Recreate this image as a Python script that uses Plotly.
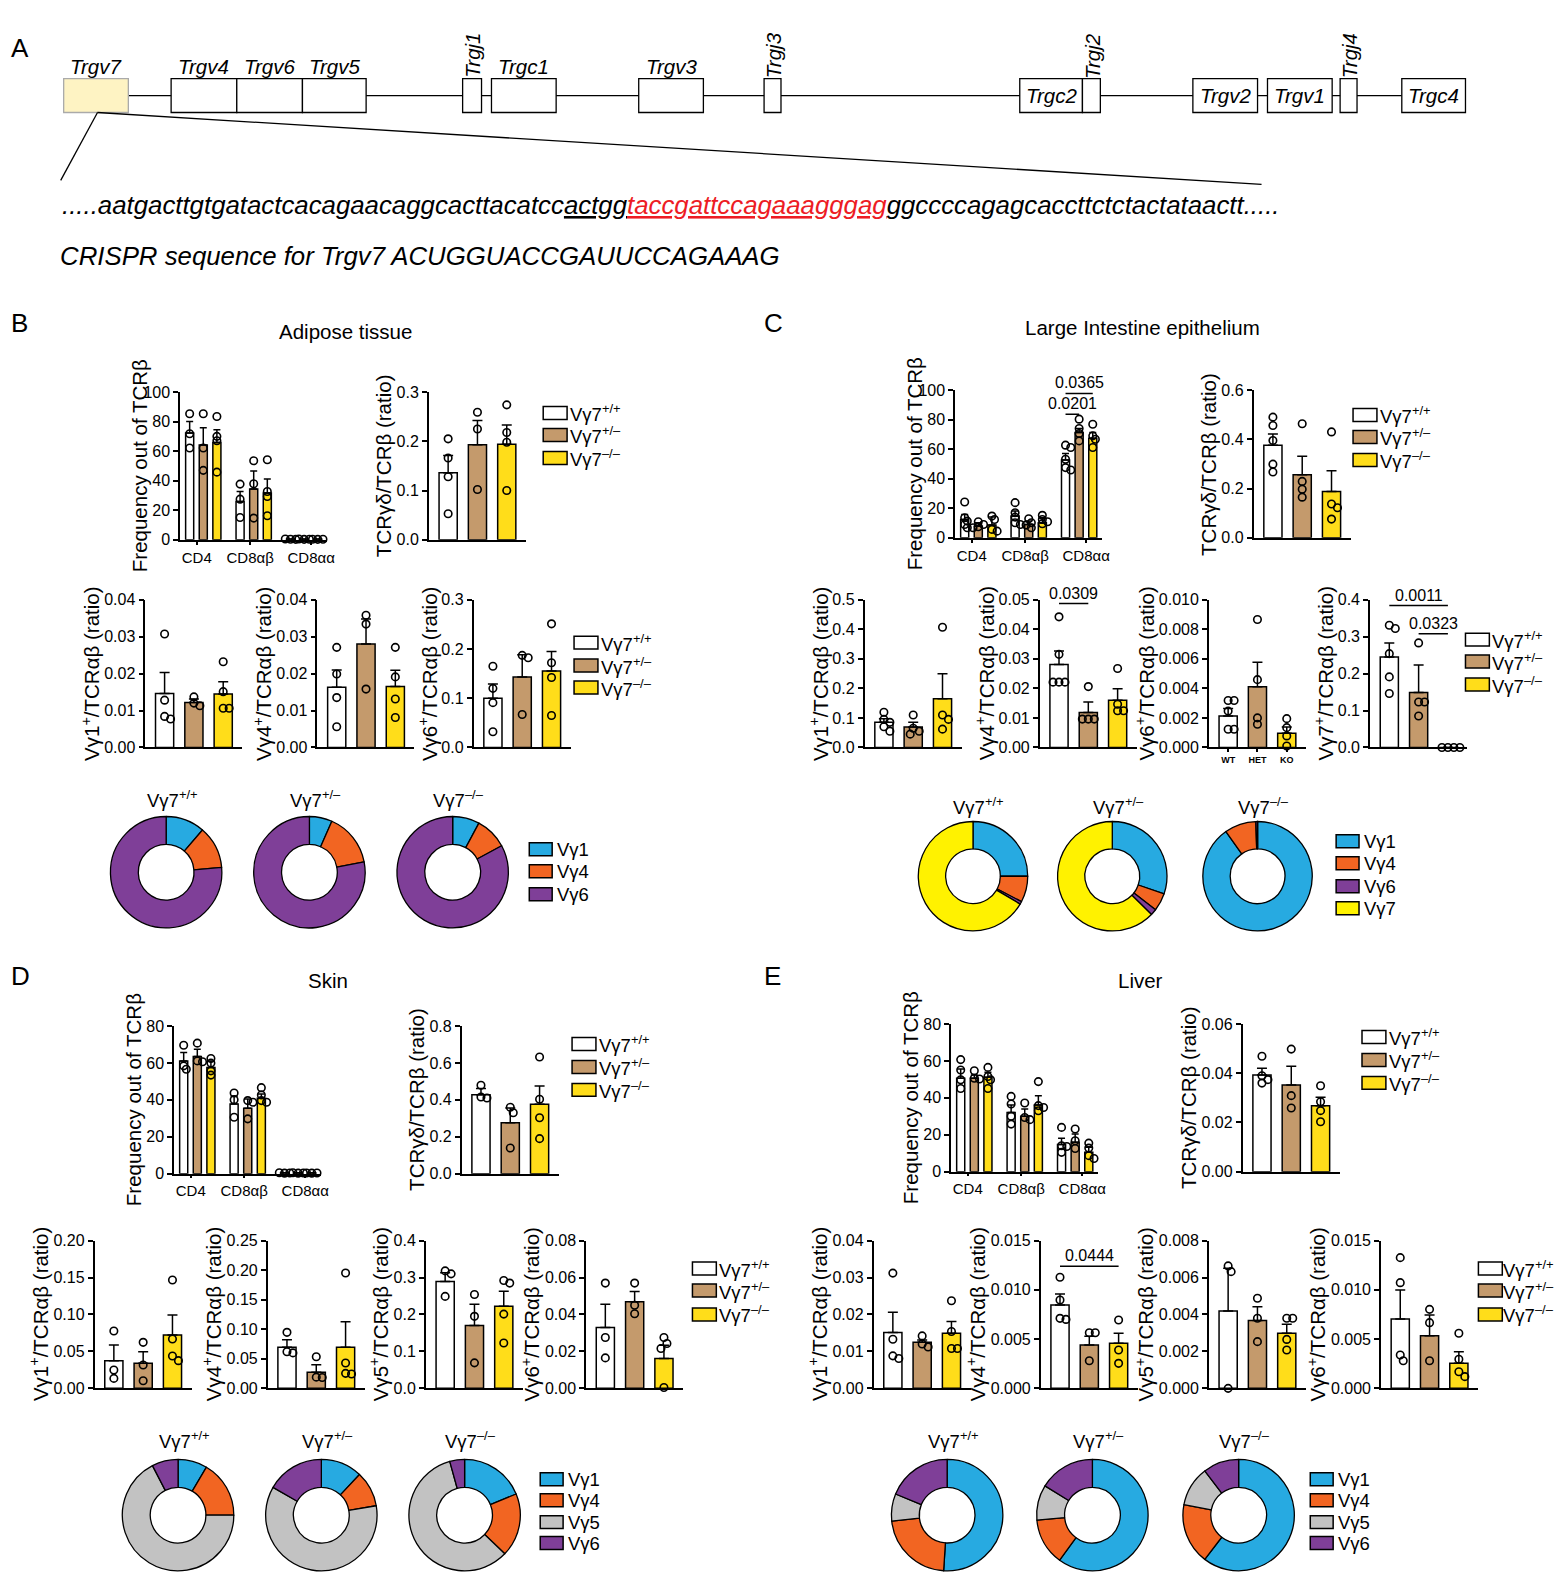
import plotly.graph_objects as go

# ============================ DATA ============================
GENOTYPES = ["Vγ7<sup>+/+</sup>", "Vγ7<sup>+/–</sup>", "Vγ7<sup>–/–</sup>"]
FREQ_CATS = ["CD4", "CD8αβ", "CD8αα"]
C_VG6_XLABELS = ["<b>WT</b>", "<b>HET</b>", "<b>KO</b>"]

GENES = ["Trgv7", "Trgv4", "Trgv6", "Trgv5", "Trgj1", "Trgc1", "Trgv3", "Trgj3",
         "Trgc2", "Trgj2", "Trgv2", "Trgv1", "Trgj4", "Trgc4"]
SEQ_LEFT = ".....aatgacttgtgatactcacagaacaggcacttacatcc"
SEQ_PAM = "actgg"
SEQ_GUIDE = "taccgattccagaaagggag"
SEQ_RIGHT = "ggccccagagcaccttctctactataactt....."
CRISPR_LINE = "CRISPR sequence for Trgv7 ACUGGUACCGAUUCCAGAAAG"

PANEL_TITLES = {"B": "Adipose tissue", "C": "Large Intestine epithelium", "D": "Skin", "E": "Liver"}
FREQ_TITLE = "Frequency out of TCRβ"
TCRGD_TITLE = "TCRγδ/TCRβ (ratio)"

# ---- B: adipose tissue ----  (per genotype WT, HET, KO; per category CD4, CD8ab, CD8aa)
B_FREQ_MEAN = [[72.2, 26.0, 0.4], [64.1, 34.3, 0.4], [65.9, 31.6, 0.4]]
B_FREQ_SEM = [[7.9, 6.7, 0.1], [11.7, 12.2, 0.1], [8.6, 9.5, 0.1]]
B_FREQ_PTS = [[[85.3, 71.8, 62.1], [37.7, 27.5, 15.1], [0.4, 0.3, 0.5]],
              [[85.3, 62.1, 47.0], [53.5, 37.9, 14.7], [0.3, 0.4, 0.5]],
              [[83.5, 70.0, 67.0, 45.8], [54.2, 32.7, 29.3, 16.3], [0.3, 0.4, 0.4, 0.5]]]
B_TCRGD_MEAN = [0.136, 0.193, 0.194]
B_TCRGD_SEM = [0.035, 0.049, 0.039]
B_TCRGD_PTS = [[0.205, 0.166, 0.128, 0.053], [0.259, 0.225, 0.102], [0.274, 0.218, 0.198, 0.100]]
B_VG1_MEAN = [0.0146, 0.0122, 0.0145]
B_VG1_SEM = [0.0057, 0.0009, 0.0033]
B_VG1_PTS = [[0.0307, 0.0128, 0.0084, 0.0077], [0.0137, 0.0120, 0.0113], [0.0232, 0.0151, 0.0106, 0.0106]]
B_VG4_MEAN = [0.0163, 0.0280, 0.0165]
B_VG4_SEM = [0.0047, 0.0068, 0.0044]
B_VG4_PTS = [[0.0271, 0.0199, 0.0135, 0.0056], [0.0358, 0.0334, 0.0158], [0.0271, 0.0191, 0.0131, 0.0081]]
B_VG6_MEAN = [0.100, 0.143, 0.155]
B_VG6_SEM = [0.029, 0.045, 0.040]
B_VG6_PTS = [[0.165, 0.120, 0.091, 0.032], [0.187, 0.182, 0.067], [0.251, 0.172, 0.142, 0.065]]
B_PIE_LABELS = ["Vγ1", "Vγ4", "Vγ6"]
B_PIE_VALUES = [[11.3, 12.3, 76.4], [6.6, 15.4, 78.0], [7.8, 9.3, 82.9]]

# ---- C: large intestine epithelium ----
C_FREQ_MEAN = [[12.4, 14.7, 52.7], [7.9, 9.0, 71.3], [8.6, 10.2, 67.4]]
C_FREQ_SEM = [[3.4, 3.4, 4.3], [2.3, 2.3, 2.7], [5.4, 3.4, 3.9]]
C_FREQ_PTS = [[[24.2, 13.6, 11.3, 9.0, 6.8], [23.8, 17.0, 14.0, 10.2, 9.0], [62.7, 61.1, 53.2, 47.5, 45.9]],
              [[10.9, 9.0, 7.5, 6.8], [12.9, 10.2, 8.6, 6.8], [80.3, 74.0, 70.6, 65.6]],
              [[14.7, 12.4, 5.7, 4.5], [15.2, 12.4, 10.9, 9.5], [76.9, 69.0, 66.7, 61.1]]]
C_FREQ_SIGS = [("0.0201", 2, 0, 1, 83.7), ("0.0365", 2, 0, 2, 97.7)]
C_TCRGD_MEAN = [0.376, 0.256, 0.188]
C_TCRGD_SEM = [0.046, 0.075, 0.084]
C_TCRGD_PTS = [[0.490, 0.456, 0.395, 0.299, 0.267], [0.463, 0.229, 0.197, 0.165], [0.430, 0.137, 0.122, 0.076]]
C_VG1_MEAN = [0.085, 0.069, 0.165]
C_VG1_SEM = [0.012, 0.016, 0.084]
C_VG1_PTS = [[0.119, 0.095, 0.085, 0.070, 0.055], [0.110, 0.065, 0.055, 0.045], [0.407, 0.110, 0.095, 0.062]]
C_VG4_MEAN = [0.0281, 0.0118, 0.0160]
C_VG4_SEM = [0.0045, 0.0036, 0.0039]
C_VG4_PTS = [[0.0442, 0.0315, 0.0221, 0.0221, 0.0221], [0.0206, 0.0096, 0.0096, 0.0096], [0.0267, 0.0146, 0.0124, 0.0124]]
C_VG4_SIGS = [("0.0309", None, 0, 1, 0.0487)]
C_VG6_MEAN = [0.00213, 0.00410, 0.00096]
C_VG6_SEM = [0.00051, 0.00167, 0.00043]
C_VG6_PTS = [[0.00318, 0.00318, 0.00246, 0.00123, 0.00123], [0.00866, 0.00459, 0.00200, 0.00157],
             [0.00195, 0.00134, 0.00078, 0.00010]]
C_VG7_MEAN = [0.245, 0.149, 0.0]
C_VG7_SEM = [0.038, 0.074, 0.0]
C_VG7_PTS = [[0.331, 0.322, 0.254, 0.191, 0.146], [0.283, 0.123, 0.123, 0.085], [0.0, 0.0, 0.0, 0.0]]
C_VG7_SIGS = [("0.0011", None, 0, 2, 0.384), ("0.0323", None, 1, 2, 0.308)]
C_PIE_LABELS = ["Vγ1", "Vγ4", "Vγ6", "Vγ7"]
C_PIE_VALUES = [[25.0, 7.7, 0.8, 66.5], [30.2, 5.3, 1.8, 62.7], [90.2, 9.3, 0.5, 0.0]]

# ---- D: skin ----
D_FREQ_MEAN = [[61.1, 37.8, 0.4], [63.5, 35.4, 0.4], [57.5, 40.8, 0.4]]
D_FREQ_SEM = [[4.5, 4.1, 0.1], [3.9, 5.0, 0.1], [3.6, 2.3, 0.1]]
D_FREQ_PTS = [[[69.6, 58.4, 56.6], [43.7, 40.1, 30.6], [0.3, 0.4, 0.5]],
              [[70.7, 61.1, 60.6], [39.6, 38.7, 29.7], [0.3, 0.4, 0.5]],
              [[62.4, 59.9, 55.7, 53.4], [46.6, 42.6, 39.6, 38.7], [0.3, 0.4, 0.4, 0.5]]]
D_TCRGD_MEAN = [0.428, 0.276, 0.376]
D_TCRGD_SEM = [0.033, 0.080, 0.099]
D_TCRGD_PTS = [[0.479, 0.415, 0.410], [0.360, 0.330, 0.139], [0.632, 0.403, 0.303, 0.190]]
D_VG1_MEAN = [0.0375, 0.0339, 0.0722]
D_VG1_SEM = [0.0212, 0.0158, 0.0271]
D_VG1_PTS = [[0.0777, 0.0248, 0.0135], [0.0623, 0.0316, 0.0104], [0.1467, 0.0668, 0.0438, 0.0375]]
D_VG4_MEAN = [0.0694, 0.0271, 0.0694]
D_VG4_SEM = [0.0130, 0.0130, 0.0435]
D_VG4_PTS = [[0.0948, 0.0620, 0.0600], [0.0536, 0.0190, 0.0185], [0.1952, 0.0429, 0.0254, 0.0243]]
D_VG5_MEAN = [0.289, 0.170, 0.222]
D_VG5_SEM = [0.024, 0.058, 0.041]
D_VG5_PTS = [[0.318, 0.310, 0.249], [0.254, 0.195, 0.069], [0.292, 0.285, 0.201, 0.123]]
D_VG6_MEAN = [0.0329, 0.0469, 0.0162]
D_VG6_SEM = [0.0126, 0.0056, 0.0072]
D_VG6_PTS = [[0.0570, 0.0275, 0.0165], [0.0570, 0.0450, 0.0404], [0.0275, 0.0243, 0.0216, 0.0005]]
D_PIE_LABELS = ["Vγ1", "Vγ4", "Vγ5", "Vγ6"]
D_PIE_VALUES = [[8.5, 16.5, 67.4, 7.6], [12.0, 10.3, 61.0, 16.7], [18.8, 18.4, 58.5, 4.3]]

# ---- E: liver ----
E_FREQ_MEAN = [[50.6, 32.1, 14.8], [50.6, 30.0, 15.9], [51.1, 36.1, 10.5]]
E_FREQ_SEM = [[5.0, 4.0, 3.3], [1.8, 3.9, 4.5], [2.7, 5.1, 2.7]]
E_FREQ_PTS = [[[60.7, 55.1, 49.8, 45.1], [40.8, 36.7, 30.0, 25.8], [24.0, 14.1, 13.7, 10.5]],
              [[54.7, 50.6, 50.2], [37.2, 29.4, 28.2], [23.1, 16.8, 12.6]],
              [[56.5, 51.6, 49.8, 45.1], [48.8, 35.8, 34.8, 33.0], [15.5, 12.8, 8.7, 7.2]]]
E_TCRGD_MEAN = [0.0393, 0.0352, 0.0268]
E_TCRGD_SEM = [0.0027, 0.0076, 0.0034]
E_TCRGD_PTS = [[0.0469, 0.0390, 0.0374, 0.0360], [0.0498, 0.0309, 0.0259], [0.0349, 0.0284, 0.0248, 0.0203]]
E_VG1_MEAN = [0.0151, 0.0125, 0.0149]
E_VG1_SEM = [0.0055, 0.0006, 0.0032]
E_VG1_PTS = [[0.0312, 0.0133, 0.0088, 0.0081], [0.0142, 0.0120, 0.0112], [0.0237, 0.0154, 0.0108, 0.0108]]
E_VG4_MEAN = [0.00847, 0.00440, 0.00457]
E_VG4_SEM = [0.00111, 0.00090, 0.00102]
E_VG4_PTS = [[0.01128, 0.00897, 0.00711, 0.00700], [0.00565, 0.00565, 0.00280], [0.00694, 0.00390, 0.00254]]
E_VG4_SIGS = [("0.0444", None, 0, 2, 0.0124)]
E_VG5_MEAN = [0.00419, 0.00367, 0.00298]
E_VG5_SEM = [0.00231, 0.00075, 0.00049]
E_VG5_PTS = [[0.00663, 0.00632, 0.0], [0.00488, 0.00380, 0.00253], [0.00380, 0.00380, 0.00265, 0.00208]]
E_VG6_MEAN = [0.00704, 0.00535, 0.00254]
E_VG6_SEM = [0.00295, 0.00210, 0.00118]
E_VG6_PTS = [[0.01327, 0.01073, 0.00339, 0.00281], [0.00802, 0.00667, 0.00281], [0.00559, 0.00295, 0.00169, 0.00119]]
E_PIE_LABELS = ["Vγ1", "Vγ4", "Vγ5", "Vγ6"]
E_PIE_VALUES = [[51.0, 22.3, 7.9, 18.8], [60.0, 13.6, 10.2, 16.2], [60.4, 17.6, 11.6, 10.4]]

# ============================ STYLE / GEOMETRY ============================
W, H = 1566, 1592
# the page photo shows the figure slightly squeezed vertically and pushed down;
# these two numbers compensate so the marks land where the reference has them
VY_SCALE, VY_OFF = 0.991, 7.3
FONT = "Liberation Sans, Arial, Helvetica, sans-serif"
BAR_COLORS = ["#FFFFFF", "#C49A6C", "#FFDD1A"]
PIE_COLORS = {"Vγ1": "#27AAE1", "Vγ4": "#F26522", "Vγ5": "#C2C2C2", "Vγ6": "#7F3F98", "Vγ7": "#FFF200"}
FREQ_XR, FREQ_W, FREQ_OFFS, FREQ_BW = [-0.46, 2.46], 148.0, [-0.27, 0.0, 0.27], 0.16
FREQ_LABEL_POS = [-0.13, 0.93, 2.14]
FREQ_TITLE_GAP = 40
RATIO_XR, RATIO_W, RATIO_BW = [-0.66, 2.65], 97.5, 0.62
DOT = 7.5
TICK_FS, TITLE_FS, LEG_FS, HEAD_FS = 16, 20.5, 18.5, 20.5
CHAR_W = {".": 0.278}


def X(px):
    return px / W


def Y(py):
    return 1 - ((py - VY_OFF) / VY_SCALE) / H


fig = go.Figure()
shapes, annotations, axes_layout = [], [], {}


def add_text(px, py, s, size=19, xanchor="center", yanchor="middle", color="black", angle=0):
    annotations.append(dict(xref="paper", yref="paper", x=X(px), y=Y(py), text=s, showarrow=False,
                            font=dict(family=FONT, size=size, color=color), xanchor=xanchor,
                            yanchor=yanchor, textangle=angle))


def add_rect(x0, y0, x1, y1, fill, line_color="black", lw=1.5):
    shapes.append(dict(type="rect", xref="paper", yref="paper", x0=X(x0), x1=X(x1), y0=Y(y1), y1=Y(y0),
                       fillcolor=fill, line=dict(color=line_color, width=lw)))


def add_line(x0, y0, x1, y1, lw=1.3):
    shapes.append(dict(type="line", xref="paper", yref="paper", x0=X(x0), y0=Y(y0), x1=X(x1), y1=Y(y1),
                       line=dict(color="black", width=lw)))


def swarm(values, ymax, h_px, ppu, step_f=0.4, min_f=0.8):
    placed, offs = [], []
    step = DOT * step_f
    for v in values:
        yp = v / ymax * h_px
        chosen = 0.0
        for k in [0, 1, -1, 2, -2, 3, -3, 4, -4]:
            xp = k * step
            if all((xp - a) ** 2 + (yp - b) ** 2 >= (DOT * min_f) ** 2 for a, b in placed):
                chosen = xp
                break
        placed.append((chosen, yp))
        offs.append(chosen / ppu)
    return offs


_n = [0]


def make_axes(x0, width, ytop, ybot, xr, ymax, dtick, fmt, title, xtickvals=None, xticktext=None,
              xtickfont=15, xticklen=4, title_center=None):
    _n[0] += 1
    s = "" if _n[0] == 1 else str(_n[0])
    nt = int(round(ymax / dtick))
    tv = [round(i * dtick, 8) for i in range(nt + 1)]
    tt = [fmt.format(v) for v in tv]
    has_x = xtickvals is not None
    axes_layout["xaxis" + s] = dict(
        domain=[X(x0), X(x0 + width)], range=xr, anchor="y" + s, showline=True, linecolor="black",
        linewidth=1.5, showgrid=False, zeroline=False, ticks="outside" if has_x else "", ticklen=xticklen,
        tickwidth=1.5, tickcolor="black", tickmode="array", tickvals=xtickvals if has_x else [],
        ticktext=xticktext if has_x else [], showticklabels=has_x, tickangle=0,
        tickfont=dict(family=FONT, size=xtickfont, color="black"), fixedrange=True)
    axes_layout["yaxis" + s] = dict(
        domain=[Y(ybot), Y(ytop)], range=[0, ymax], anchor="x" + s, showline=True, linecolor="black",
        linewidth=1.5, showgrid=False, zeroline=False, ticks="outside", ticklen=5, tickwidth=1.5,
        tickcolor="black", tickmode="array", tickvals=tv, ticktext=tt,
        tickfont=dict(family=FONT, size=TICK_FS, color="black"), fixedrange=True)
    # y-axis title placed right next to the tick labels, as in the reference
    if title_center is not None:
        add_text(title_center, (ytop + ybot) / 2, title, size=TITLE_FS, angle=-90)
    else:
        label_w = max(sum(CHAR_W.get(c, 0.556) for c in t) for t in tt) * TICK_FS
        tx = x0 - 5 - label_w - 4
        add_text(tx, (ytop + ybot) / 2, title, size=TITLE_FS, xanchor="right", angle=-90)
    return "x" + s, "y" + s


def add_points(xa, ya, xs, ys):
    fig.add_trace(go.Scatter(x=xs, y=ys, xaxis=xa, yaxis=ya, mode="markers", cliponaxis=False,
                             marker=dict(symbol="circle-open", size=DOT, color="black", line=dict(width=1.6)),
                             showlegend=False, hoverinfo="skip"))


def add_sigs(xa, ya, sigs, xpos):
    for label, cat, g0, g1, yv in sigs:
        xa0, xa1 = xpos(cat, g0), xpos(cat, g1)
        shapes.append(dict(type="line", xref=xa, yref=ya, x0=xa0, x1=xa1, y0=yv, y1=yv,
                           line=dict(color="black", width=1.5)))
        annotations.append(dict(xref=xa, yref=ya, x=(xa0 + xa1) / 2, y=yv, text=label, showarrow=False,
                                yanchor="bottom", font=dict(family=FONT, size=16, color="black")))


def freq_chart(x0, ytop, ybot, ymax, mean, sem, pts, sigs=()):
    xa, ya = make_axes(x0, FREQ_W, ytop, ybot, FREQ_XR, ymax, 20, "{:.0f}", FREQ_TITLE,
                       xtickvals=FREQ_LABEL_POS, xticktext=FREQ_CATS, xticklen=3,
                       title_center=x0 - FREQ_TITLE_GAP)
    ppu = FREQ_W / (FREQ_XR[1] - FREQ_XR[0])
    for j in range(3):
        fig.add_trace(go.Bar(
            x=[g + FREQ_OFFS[j] for g in range(3)], y=mean[j], width=FREQ_BW, xaxis=xa, yaxis=ya,
            marker=dict(color=BAR_COLORS[j], line=dict(color="black", width=1.5)),
            error_y=dict(type="data", array=sem[j], arrayminus=[0] * 3, symmetric=False, color="black",
                         thickness=1.5, width=3.5),
            showlegend=False, hoverinfo="skip"))
    xs, ys = [], []
    for j in range(3):
        for g in range(3):
            offs = swarm(pts[j][g], ymax, ybot - ytop, ppu, 0.35, 0.55)
            xs += [g + FREQ_OFFS[j] + o for o in offs]
            ys += pts[j][g]
    add_points(xa, ya, xs, ys)
    add_sigs(xa, ya, sigs, lambda c, g: c + FREQ_OFFS[g])


def ratio_chart(x0, ytop, ybot, ymax, dtick, fmt, title, mean, sem, pts, sigs=(), xlabels=None):
    if xlabels:
        xa, ya = make_axes(x0, RATIO_W, ytop, ybot, RATIO_XR, ymax, dtick, fmt, title,
                           xtickvals=[0, 1, 2], xticktext=xlabels, xtickfont=9, xticklen=3)
    else:
        xa, ya = make_axes(x0, RATIO_W, ytop, ybot, RATIO_XR, ymax, dtick, fmt, title)
    ppu = RATIO_W / (RATIO_XR[1] - RATIO_XR[0])
    fig.add_trace(go.Bar(
        x=[0, 1, 2], y=mean, width=RATIO_BW, xaxis=xa, yaxis=ya,
        marker=dict(color=BAR_COLORS, line=dict(color="black", width=1.5)),
        error_y=dict(type="data", array=sem, arrayminus=[0] * 3, symmetric=False, color="black",
                     thickness=1.5, width=5),
        showlegend=False, hoverinfo="skip"))
    xs, ys = [], []
    for j in range(3):
        offs = swarm(pts[j], ymax, ybot - ytop, ppu)
        xs += [j + o for o in offs]
        ys += pts[j]
    add_points(xa, ya, xs, ys)
    add_sigs(xa, ya, sigs, lambda c, g: g)


def bar_legend(box_x, ys, text_x, size=LEG_FS):
    for y, lab, col in zip(ys, GENOTYPES, BAR_COLORS):
        add_rect(box_x, y - 6.5, box_x + 24, y + 6.5, col)
        add_text(text_x, y, lab, size=size, xanchor="left")


def pie_group(centers, r, title_y, labels, values, leg_x, leg_ys):
    for (cx, cy), vals, gt in zip(centers, values, GENOTYPES):
        fig.add_trace(go.Pie(
            labels=labels, values=vals, hole=0.5, sort=False, direction="clockwise", rotation=0,
            marker=dict(colors=[PIE_COLORS[l] for l in labels], line=dict(color="black", width=1.3)),
            textinfo="none", hoverinfo="skip", showlegend=False,
            domain=dict(x=[X(cx - r), X(cx + r)], y=[Y(cy + r), Y(cy - r)])))
        add_text(cx + 6, title_y, gt, size=LEG_FS)
    for y, lab in zip(leg_ys, labels):
        add_rect(leg_x, y - 6.5, leg_x + 23, y + 6.5, PIE_COLORS[lab])
        add_text(leg_x + 26, y, lab, size=LEG_FS, xanchor="left")


def vg(n):
    return "Vγ%s<sup>+</sup>/TCRαβ (ratio)" % n


# ============================ PANEL A ============================
GENE_GEOM = {"Trgv7": (64, 129, "above"), "Trgv4": (172, 238, "above"), "Trgv6": (238, 304, "above"),
             "Trgv5": (304, 368, "above"), "Trgj1": (465, 484, "rot"), "Trgc1": (494, 559, "above"),
             "Trgv3": (642, 707, "above"), "Trgj3": (768, 785, "rot"), "Trgc2": (1025, 1088, "inside"),
             "Trgj2": (1088, 1106, "rot"), "Trgv2": (1199, 1264, "inside"), "Trgv1": (1274, 1339, "inside"),
             "Trgj4": (1347, 1364, "rot"), "Trgc4": (1409, 1473, "inside")}
GY0, GY1, GLINE = 78, 112, 95
add_text(9, 47, "A", size=26, xanchor="left")
add_line(129, GLINE, 1409, GLINE, lw=1.3)
for name in GENES:
    gx0, gx1, where = GENE_GEOM[name]
    if name == "Trgv7":
        add_rect(gx0, GY0, gx1, GY1, "#FEF3C3", line_color="#AAAAAA", lw=1.3)
    else:
        add_rect(gx0, GY0, gx1, GY1, "white", lw=1.3)
    cx = (gx0 + gx1) / 2
    if where == "above":
        add_text(cx, 66, "<i>%s</i>" % name, size=20.5)
    elif where == "inside":
        add_text(cx, GLINE, "<i>%s</i>" % name, size=20.5)
    else:
        add_text(cx + 1, 55, "<i>%s</i>" % name, size=20.5, angle=-90)
add_line(98, 112, 61, 180, lw=1.3)
add_line(98, 112, 1268, 184, lw=1.3)
add_text(60, 205, "<i>%s<u>%s</u><span style='color:#ED1C24'><u>%s</u></span>%s</i>"
         % (SEQ_LEFT, SEQ_PAM, SEQ_GUIDE, SEQ_RIGHT), size=25.8, xanchor="left")
add_text(58, 256, "<i>%s</i>" % CRISPR_LINE, size=25.8, xanchor="left")

# ============================ PANEL B ============================
add_text(9, 323, "B", size=26, xanchor="left")
add_text(347, 331, PANEL_TITLES["B"], size=HEAD_FS)
freq_chart(181, 392, 540, 100, B_FREQ_MEAN, B_FREQ_SEM, B_FREQ_PTS)
ratio_chart(431, 392, 540, 0.3, 0.1, "{:.1f}", TCRGD_TITLE, B_TCRGD_MEAN, B_TCRGD_SEM, B_TCRGD_PTS)
bar_legend(546, [413, 435, 458], 571)
ratio_chart(146, 600, 748, 0.04, 0.01, "{:.2f}", vg(1), B_VG1_MEAN, B_VG1_SEM, B_VG1_PTS)
ratio_chart(319, 600, 748, 0.04, 0.01, "{:.2f}", vg(4), B_VG4_MEAN, B_VG4_SEM, B_VG4_PTS)
ratio_chart(476, 600, 748, 0.3, 0.1, "{:.1f}", vg(6), B_VG6_MEAN, B_VG6_SEM, B_VG6_PTS)
bar_legend(577, [643, 666, 688], 602)
pie_group([(167, 873), (311, 873), (455, 873)], 56, 800, B_PIE_LABELS, B_PIE_VALUES, 532, [850, 872, 895])

# ============================ PANEL C ============================
add_text(766, 323, "C", size=26, xanchor="left")
add_text(1148, 327, PANEL_TITLES["C"], size=HEAD_FS)
freq_chart(960, 390, 538, 100, C_FREQ_MEAN, C_FREQ_SEM, C_FREQ_PTS, C_FREQ_SIGS)
ratio_chart(1260, 390, 538, 0.6, 0.2, "{:.1f}", TCRGD_TITLE, C_TCRGD_MEAN, C_TCRGD_SEM, C_TCRGD_PTS)
bar_legend(1360, [415, 437, 460], 1385)
ratio_chart(869, 600, 748, 0.5, 0.1, "{:.1f}", vg(1), C_VG1_MEAN, C_VG1_SEM, C_VG1_PTS)
ratio_chart(1045, 600, 748, 0.05, 0.01, "{:.2f}", vg(4), C_VG4_MEAN, C_VG4_SEM, C_VG4_PTS, C_VG4_SIGS)
ratio_chart(1215, 600, 748, 0.010, 0.002, "{:.3f}", vg(6), C_VG6_MEAN, C_VG6_SEM, C_VG6_PTS,
            xlabels=C_VG6_XLABELS)
ratio_chart(1377, 600, 748, 0.4, 0.1, "{:.1f}", vg(7), C_VG7_MEAN, C_VG7_SEM, C_VG7_PTS, C_VG7_SIGS)
bar_legend(1473, [640, 662, 685], 1498)
pie_group([(978, 877), (1118, 877), (1264, 877)], 55, 807, C_PIE_LABELS, C_PIE_VALUES, 1343,
          [842, 864, 887, 909])

# ============================ PANEL D ============================
add_text(9, 977, "D", size=26, xanchor="left")
add_text(330, 981, PANEL_TITLES["D"], size=HEAD_FS)
freq_chart(175, 1027, 1175, 80, D_FREQ_MEAN, D_FREQ_SEM, D_FREQ_PTS)
ratio_chart(464, 1027, 1175, 0.8, 0.2, "{:.1f}", TCRGD_TITLE, D_TCRGD_MEAN, D_TCRGD_SEM, D_TCRGD_PTS)
bar_legend(575, [1045, 1068, 1091], 600)
ratio_chart(95, 1242, 1390, 0.20, 0.05, "{:.2f}", vg(1), D_VG1_MEAN, D_VG1_SEM, D_VG1_PTS)
ratio_chart(269, 1242, 1390, 0.25, 0.05, "{:.2f}", vg(4), D_VG4_MEAN, D_VG4_SEM, D_VG4_PTS)
ratio_chart(428, 1242, 1390, 0.4, 0.1, "{:.1f}", vg(5), D_VG5_MEAN, D_VG5_SEM, D_VG5_PTS)
ratio_chart(589, 1242, 1390, 0.08, 0.02, "{:.2f}", vg(6), D_VG6_MEAN, D_VG6_SEM, D_VG6_PTS)
bar_legend(696, [1270, 1292, 1316], 721)
pie_group([(179, 1517), (323, 1517), (467, 1517)], 56, 1442, D_PIE_LABELS, D_PIE_VALUES, 543,
          [1481, 1502, 1524, 1545])

# ============================ PANEL E ============================
add_text(766, 977, "E", size=26, xanchor="left")
add_text(1146, 981, PANEL_TITLES["E"], size=HEAD_FS)
freq_chart(956, 1025, 1173, 80, E_FREQ_MEAN, E_FREQ_SEM, E_FREQ_PTS)
ratio_chart(1249, 1025, 1173, 0.06, 0.02, "{:.2f}", TCRGD_TITLE, E_TCRGD_MEAN, E_TCRGD_SEM, E_TCRGD_PTS)
bar_legend(1369, [1038, 1061, 1084], 1394)
ratio_chart(878, 1242, 1390, 0.04, 0.01, "{:.2f}", vg(1), E_VG1_MEAN, E_VG1_SEM, E_VG1_PTS)
ratio_chart(1046, 1242, 1390, 0.015, 0.005, "{:.3f}", vg(4), E_VG4_MEAN, E_VG4_SEM, E_VG4_PTS, E_VG4_SIGS)
ratio_chart(1215, 1242, 1390, 0.008, 0.002, "{:.3f}", vg(5), E_VG5_MEAN, E_VG5_SEM, E_VG5_PTS)
ratio_chart(1388, 1242, 1390, 0.015, 0.005, "{:.3f}", vg(6), E_VG6_MEAN, E_VG6_SEM, E_VG6_PTS)
bar_legend(1486, [1270, 1292, 1316], 1509)
pie_group([(952, 1517), (1098, 1517), (1245, 1517)], 56, 1442, E_PIE_LABELS, E_PIE_VALUES, 1317,
          [1481, 1502, 1524, 1545])

fig.update_layout(width=W, height=H, margin=dict(l=0, r=0, t=0, b=0), paper_bgcolor="white",
                  plot_bgcolor="rgba(0,0,0,0)", showlegend=False, barmode="overlay",
                  font=dict(family=FONT, color="black"), shapes=shapes, annotations=annotations,
                  **axes_layout)
# remove the default 8px page margin so the figure fills the window exactly; hide the modebar
fig.write_html("out.html", config={"displayModeBar": False},
               post_script="document.body.style.margin='0px';"
                           "document.documentElement.style.overflow='hidden';")
